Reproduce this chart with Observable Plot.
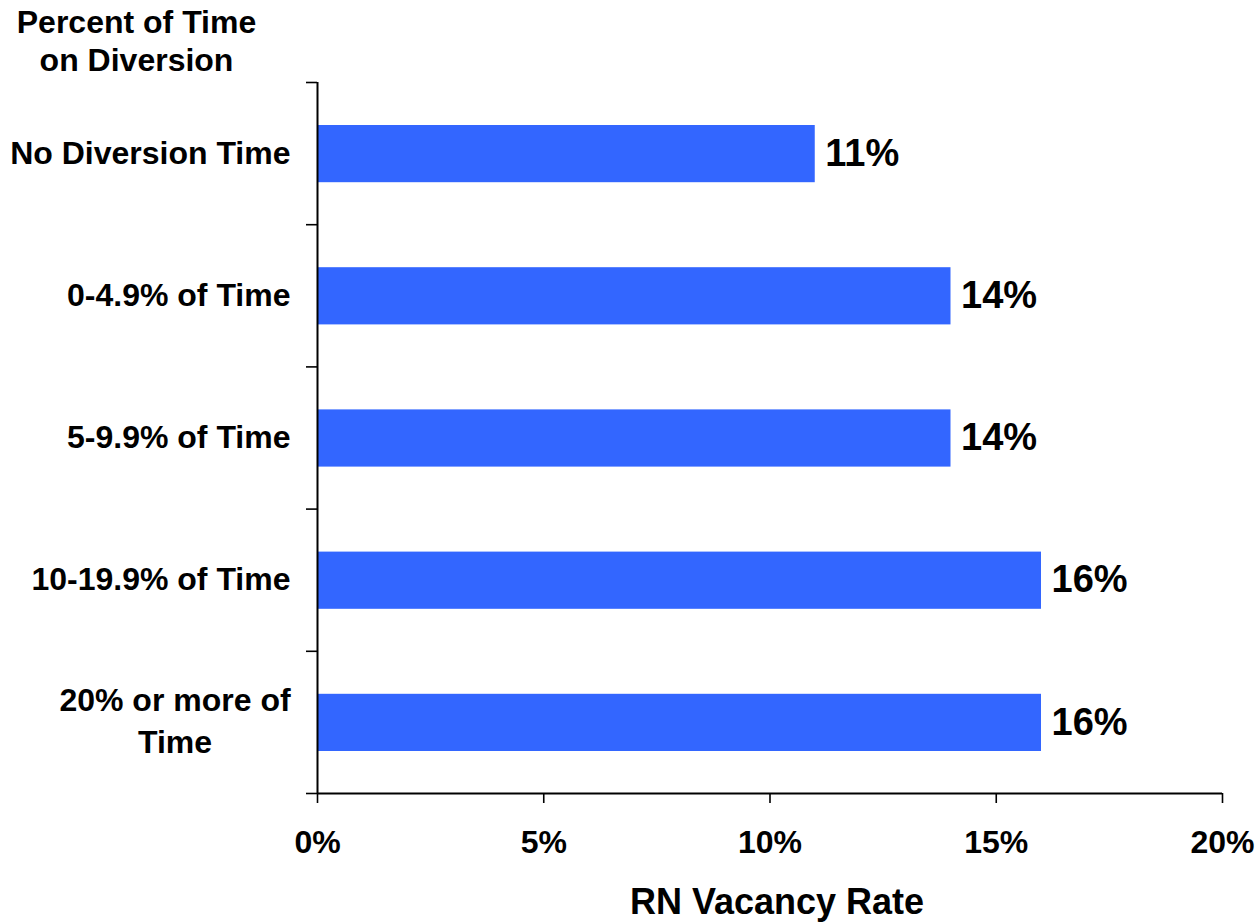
<!DOCTYPE html>
<html>
<head>
<meta charset="utf-8">
<script src="https://cdn.jsdelivr.net/npm/d3@7"></script>
<script src="https://cdn.jsdelivr.net/npm/@observablehq/plot@0.6"></script>
<style>
  html, body { margin: 0; padding: 0; background: #fff; }
</style>
</head>
<body>
<div id="chart"></div>
<script>
const categories = ["No Diversion Time", "0-4.9% of Time", "5-9.9% of Time", "10-19.9% of Time", "20% or more of\nTime"];
const values = [11, 14, 14, 16, 16];
const xTicks = [0, 5, 10, 15, 20];
const yTitle = "Percent of Time\non Diversion";
const xTitle = "RN Vacancy Rate";

const rows = categories.map((c, i) => ({cat: c, value: values[i], i}));
const font = "'Liberation Sans', Arial, Helvetica, sans-serif";
const single = rows.filter(d => !d.cat.includes("\n"));
const multi = rows.filter(d => d.cat.includes("\n"));

const chart = Plot.plot({
  width: 1256,
  height: 923,
  marginLeft: 317,
  marginRight: 34,
  marginTop: 82,
  marginBottom: 130,
  style: {fontFamily: font, fontWeight: "bold", background: "#fff", overflow: "visible"},
  x: {domain: [0, 20]},
  y: {domain: [0, categories.length], reverse: true},
  marks: [
    Plot.rectX(rows, {x1: 0, x2: "value", y1: d => d.i, y2: d => d.i + 1, fill: "#3366FF", insetTop: 43, insetBottom: 42}),
    Plot.axisY({ticks: d3.range(categories.length + 1), tickFormat: () => "", tickSize: 11, strokeWidth: 1.6, stroke: "#000", label: null}),
    Plot.axisX({ticks: xTicks, tickFormat: d => d + "%", tickSize: 10, tickPadding: 27, fontSize: 32, fontWeight: "bold", fill: "#000", stroke: "#000", strokeWidth: 1.6, label: null}),
    Plot.ruleX([0], {stroke: "#000", strokeWidth: 2}),
    Plot.ruleY([categories.length], {stroke: "#000", strokeWidth: 2, x1: 0, x2: 20}),
    Plot.text(single, {x: 0, y: d => d.i + 0.5, text: "cat", textAnchor: "end", dx: -27, fontSize: 32, fontWeight: "bold", fill: "#000"}),
    Plot.text(multi, {x: 0, y: d => d.i + 0.5, text: "cat", textAnchor: "middle", dx: -142.5, dy: -4, lineHeight: 1.32, fontSize: 32, fontWeight: "bold", fill: "#000"}),
    Plot.text(rows, {x: "value", y: d => d.i + 0.5, text: d => d.value + "%", textAnchor: "start", dx: 10, fontSize: 38, fontWeight: "bold", fill: "#000"}),
    Plot.text([yTitle], {frameAnchor: "top-left", text: d => d, textAnchor: "middle", dx: -181, dy: -43, lineAnchor: "middle", lineHeight: 1.19, fontSize: 32, fontWeight: "bold", fill: "#000"}),
    Plot.text([xTitle], {frameAnchor: "bottom", text: d => d, textAnchor: "middle", dx: 7, dy: 109, lineAnchor: "middle", fontSize: 36, fontWeight: "bold", fill: "#000"})
  ]
});
document.getElementById("chart").appendChild(chart);
</script>
</body>
</html>
